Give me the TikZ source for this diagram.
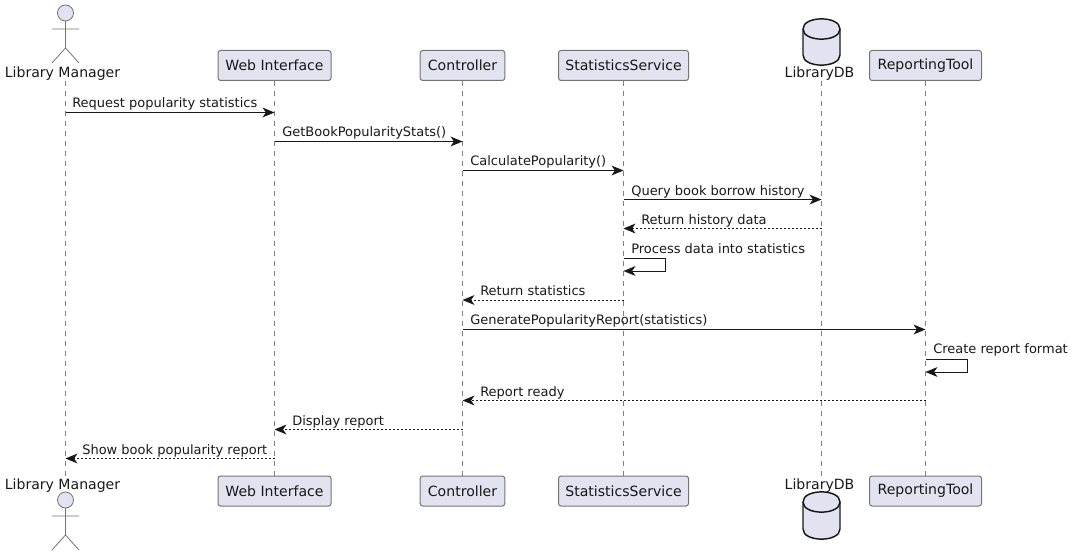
\documentclass[tikz,border=0pt]{standalone}
\usepackage{fontspec}
\setmainfont{DejaVu Sans}
\usetikzlibrary{arrows.meta,backgrounds}
\definecolor{pfill}{HTML}{E2E2F0}
\definecolor{pline}{HTML}{181818}
\tikzset{
  partbox/.style={draw=pline!60,line width=0.75pt,fill=pfill,rounded corners=1.9pt,minimum height=22.5pt,inner sep=0pt,font=\fontsize{10.55pt}{12pt}\selectfont,text=pline},
  partname/.style={inner sep=0pt,anchor=base,font=\fontsize{10.55pt}{12pt}\selectfont,text=pline},
  lifeline/.style={draw=pline!55,line width=0.6pt,dash pattern=on 3.75pt off 3.75pt},
  msgline/.style={draw=pline,line width=0.75pt,-{Stealth[length=9pt,width=7.4pt,inset=2.6pt]}},
  msgback/.style={msgline,dash pattern=on 1.5pt off 1.5pt},
  msglabel/.style={inner sep=0pt,anchor=base west,font=\fontsize{9.75pt}{12pt}\selectfont,text=pline},
  stick/.style={draw=pline!60,line width=0.6pt},
  dbshape/.style={draw=pline,line width=1.1pt,fill=pfill}
}
\newcommand{\stickman}[2]{%
  \draw[stick,fill=pfill] (#1,#2) circle[radius=6pt];
  \draw[stick] (#1,#2+8) -- (#1,#2+35) (#1-13.5,#2+16) -- (#1+13.5,#2+16)
    (#1-13.5,#2+50) -- (#1,#2+35) -- (#1+13.5,#2+50);}
\newcommand{\dbcyl}[3]{%
  \draw[dbshape] (#1-18.5,#2+10) .. controls (#1-18.5,#2-3.5) and (#1+18.5,#2-3.5) .. (#1+18.5,#2+10)
    -- (#1+18.5,#3-10) .. controls (#1+18.5,#3+3.5) and (#1-18.5,#3+3.5) .. (#1-18.5,#3-10) -- cycle;
  \draw[dbshape,fill=none] (#1-18.5,#2+10) .. controls (#1-18.5,#2+23.5) and (#1+18.5,#2+23.5) .. (#1+18.5,#2+10);}
\begin{document}
\begin{tikzpicture}[x=0.75pt,y=-0.75pt]
\useasboundingbox (0,0) rectangle (1073,556);
% lifeline ends
\coordinate (lmtop) at (65.5,81); \coordinate (lmbot) at (65.5,476);
\coordinate (dbtop) at (821.5,81); \coordinate (dbbot) at (821.5,476);
% participants
\node[partbox,minimum width=84.75pt] (webt) at (274.5,65.5) {Web Interface};
\node[partbox,minimum width=63.4pt] (cont) at (462.5,65.5) {Controller};
\node[partbox,minimum width=97.5pt] (stat) at (623.5,65.5) {StatisticsService};
\node[partbox,minimum width=84pt] (rept) at (925.5,65.5) {ReportingTool};
\node[partbox,minimum width=84.75pt] (webb) at (274.5,491) {Web Interface};
\node[partbox,minimum width=63.4pt] (conb) at (462.5,491) {Controller};
\node[partbox,minimum width=97.5pt] (statb) at (623.5,491) {StatisticsService};
\node[partbox,minimum width=84pt] (repb) at (925.5,491) {ReportingTool};
% lifelines
\begin{scope}[on background layer]
\draw[lifeline] (lmtop) -- (lmbot);
\draw[lifeline] (webt) -- (webb);
\draw[lifeline] (cont) -- (conb);
\draw[lifeline] (stat) -- (statb);
\draw[lifeline] (dbtop) -- (dbbot);
\draw[lifeline] (rept) -- (repb);
\end{scope}
% actors and databases
\stickman{65.5}{13}
\stickman{65.5}{500}
\dbcyl{821.5}{19}{65}
\dbcyl{821.5}{492}{539}
\node[partname] (lmname) at (62.5,78) {Library Manager};
\node[partname] (lmnameb) at (62.5,489) {Library Manager};
\node[partname] (dbname) at (819.5,78) {LibraryDB};
\node[partname] (dbnameb) at (819.5,489) {LibraryDB};
% messages
\draw[msgline] (lmtop |- 0,112.5) -- (webt |- 0,112.5);
\node[msglabel] (l1) at (72,108) {Request popularity statistics};
\draw[msgline] (webt |- 0,141.5) -- (cont |- 0,141.5);
\node[msglabel] (l2) at (282,137) {GetBookPopularityStats()};
\draw[msgline] (cont |- 0,170.5) -- (stat |- 0,170.5);
\node[msglabel] (l3) at (470,166) {CalculatePopularity()};
\draw[msgline] (stat |- 0,199.5) -- (dbtop |- 0,199.5);
\node[msglabel] (l4) at (631,195) {Query book borrow history};
\draw[msgback] (dbtop |- 0,228.5) -- (stat |- 0,228.5);
\node[msglabel] (l5) at (641,224) {Return history data};
\draw[msgline] (stat |- 0,258.5) -- (665.5,258.5) -- (665.5,271) -- (stat |- 0,271);
\node[msglabel] (l6) at (631,253) {Process data into statistics};
\draw[msgback] (stat |- 0,300) -- (cont |- 0,300);
\node[msglabel] (l7) at (480,295) {Return statistics};
\draw[msgline] (cont |- 0,329.5) -- (rept |- 0,329.5);
\node[msglabel] (l8) at (470,324) {GeneratePopularityReport(statistics)};
\draw[msgline] (rept |- 0,359) -- (967.5,359) -- (967.5,372) -- (rept |- 0,372);
\node[msglabel] (l9) at (933,353) {Create report format};
\draw[msgback] (rept |- 0,400.5) -- (cont |- 0,400.5);
\node[msglabel] (l10) at (480,396) {Report ready};
\draw[msgback] (cont |- 0,429.5) -- (webt |- 0,429.5);
\node[msglabel] (l11) at (292,425) {Display report};
\draw[msgback] (webt |- 0,458.5) -- (lmtop |- 0,458.5);
\node[msglabel] (l12) at (82,454) {Show book popularity report};
\end{tikzpicture}
\end{document}
